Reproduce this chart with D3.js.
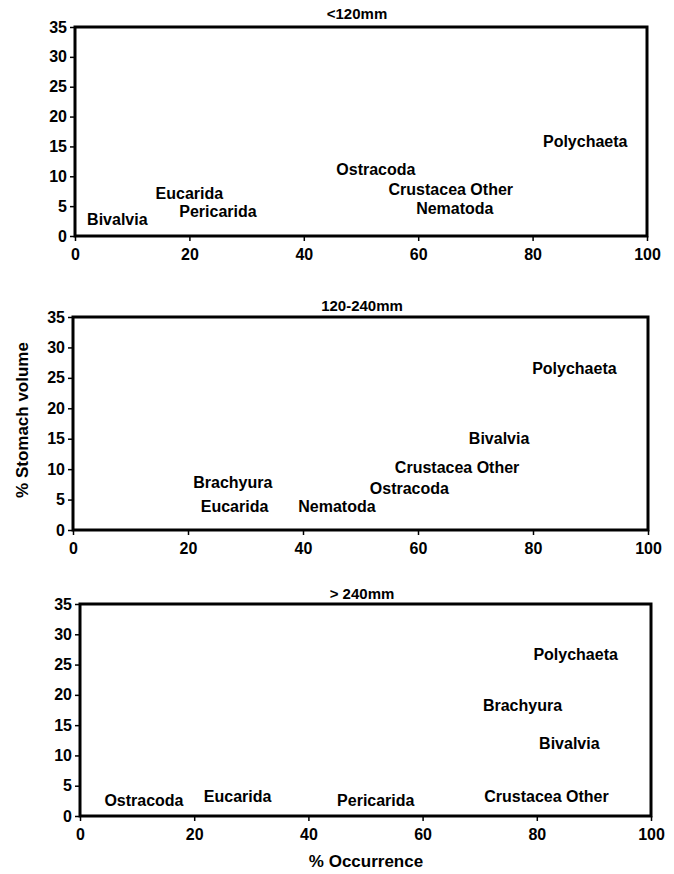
<!DOCTYPE html>
<html>
<head>
<meta charset="utf-8">
<script src="https://cdn.jsdelivr.net/npm/d3@7"></script>
<style>
  body { margin: 0; background: #fff; }
  svg { font-family: "Liberation Sans", Arial, sans-serif; font-weight: bold; }
</style>
</head>
<body>
<div id="chart-area"></div>
<script>
// Data (labels placed at % occurrence, % stomach volume)
var titles = ["<120mm", "120-240mm", "> 240mm"];

var names1 = ["Bivalvia", "Eucarida", "Pericarida", "Ostracoda", "Crustacea Other", "Nematoda", "Polychaeta"];
var occ1   = [7.4, 20.0, 25.0, 52.6, 65.7, 66.4, 89.2];
var vol1   = [2.7, 7.2, 4.1, 11.1, 7.8, 4.6, 15.9];

var names2 = ["Polychaeta", "Bivalvia", "Crustacea Other", "Ostracoda", "Brachyura", "Eucarida", "Nematoda"];
var occ2   = [87.2, 74.1, 66.8, 58.5, 27.8, 28.1, 45.9];
var vol2   = [26.5, 15.0, 10.2, 6.9, 7.8, 3.9, 3.9];

var names3 = ["Polychaeta", "Brachyura", "Bivalvia", "Crustacea Other", "Ostracoda", "Eucarida", "Pericarida"];
var occ3   = [86.8, 77.5, 85.7, 81.7, 11.2, 27.6, 51.8];
var vol3   = [26.7, 18.2, 12.0, 3.2, 2.6, 3.2, 2.6];

var xTicks = [0, 20, 40, 60, 80, 100];
var yTicks = [0, 5, 10, 15, 20, 25, 30, 35];

var width = 674, height = 874;

var svg = d3.select("#chart-area").append("svg")
    .attr("width", width)
    .attr("height", height);

// panel boxes
var panels = [
    { left: 75, right: 647, top: 27,  bottom: 236, titleX: 357, titleY: 13,
      names: names1, occ: occ1, vol: vol1 },
    { left: 73, right: 648, top: 317, bottom: 530, titleX: 362, titleY: 305,
      names: names2, occ: occ2, vol: vol2 },
    { left: 80, right: 651, top: 604, bottom: 816, titleX: 362, titleY: 593,
      names: names3, occ: occ3, vol: vol3 }
];

panels.forEach(function(p, k) {
    var x = d3.scaleLinear().domain([0, 100]).range([p.left, p.right]);
    var y = d3.scaleLinear().domain([0, 35]).range([p.bottom, p.top]);

    var g = svg.append("g");

    // frame
    g.append("rect")
        .attr("x", p.left)
        .attr("y", p.top)
        .attr("width", p.right - p.left)
        .attr("height", p.bottom - p.top)
        .attr("fill", "none")
        .attr("stroke", "black")
        .attr("stroke-width", 3);

    var xAxis = d3.axisBottom(x).tickValues(xTicks).tickSize(5).tickPadding(8);
    var yAxis = d3.axisLeft(y).tickValues(yTicks).tickSize(5).tickPadding(3);

    var gx = g.append("g")
        .attr("transform", "translate(0," + p.bottom + ")")
        .call(xAxis);
    var gy = g.append("g")
        .attr("transform", "translate(" + p.left + ",0)")
        .call(yAxis);

    [gx, gy].forEach(function(a) {
        a.select(".domain").remove();
        a.selectAll("line").attr("stroke", "black").attr("stroke-width", 1.5);
        a.selectAll("text")
            .attr("fill", "black")
            .attr("font-size", "16px")
            .attr("font-weight", "bold")
            .attr("font-family", "Liberation Sans, Arial, sans-serif");
    });

    // title
    g.append("text")
        .attr("x", p.titleX)
        .attr("y", p.titleY)
        .attr("text-anchor", "middle")
        .attr("dominant-baseline", "central")
        .attr("font-size", "15px")
        .text(titles[k]);

    // labels as points
    g.selectAll(".lab")
        .data(p.names)
        .enter().append("text")
        .attr("class", "lab")
        .attr("x", function(d, i) { return x(p.occ[i]); })
        .attr("y", function(d, i) { return y(p.vol[i]); })
        .attr("text-anchor", "middle")
        .attr("dominant-baseline", "central")
        .attr("font-size", "16px")
        .text(function(d) { return d; });
});

// Y-Axis label
svg.append("text")
    .attr("transform", "translate(22,420) rotate(-90)")
    .attr("text-anchor", "middle")
    .attr("dominant-baseline", "central")
    .attr("font-size", "17px")
    .text("% Stomach volume");

// X-Axis label
svg.append("text")
    .attr("x", 366)
    .attr("y", 861)
    .attr("text-anchor", "middle")
    .attr("dominant-baseline", "central")
    .attr("font-size", "17px")
    .text("% Occurrence");
</script>
</body>
</html>
